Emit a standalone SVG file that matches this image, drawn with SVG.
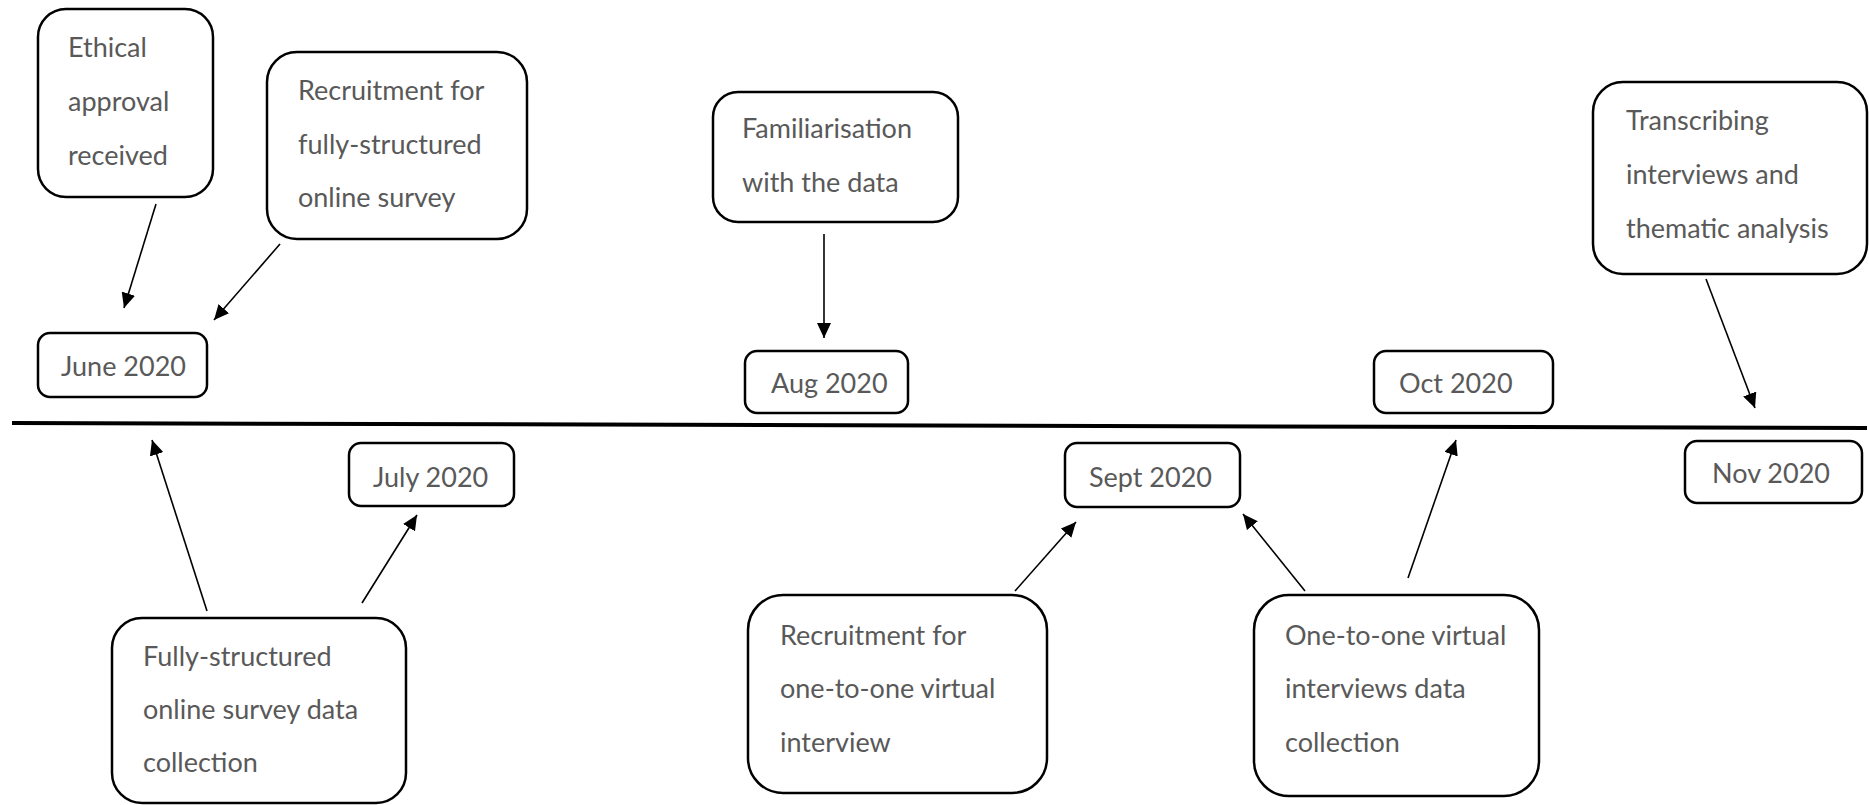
<svg xmlns="http://www.w3.org/2000/svg" width="1869" height="805" viewBox="0 0 1869 805">
<style>
.box{fill:#fff;stroke:#000;stroke-width:2.5}
.t{font-family:Lato,"Liberation Sans",sans-serif;font-size:27px;fill:#595959}
.c{stroke:#000;stroke-width:1.6;fill:none;marker-end:url(#ah)}
</style>
<defs>
<marker id="ah" markerUnits="userSpaceOnUse" markerWidth="16" markerHeight="14" refX="15" refY="7" orient="auto">
<path d="M0,0 L15,7 L0,14 z" fill="#000"/>
</marker>
</defs>
<rect width="1869" height="805" fill="#fff"/>
<line x1="12" y1="423" x2="1867" y2="428" stroke="#000" stroke-width="4"/>
<g id="connectors">
<line class="c" x1="156" y1="204" x2="124" y2="308"/>
<line class="c" x1="280" y1="244" x2="214" y2="320"/>
<line class="c" x1="824" y1="234" x2="824" y2="338"/>
<line class="c" x1="1706" y1="279" x2="1755" y2="408"/>
<line class="c" x1="207" y1="611" x2="152" y2="440"/>
<line class="c" x1="362" y1="603" x2="417" y2="515"/>
<line class="c" x1="1015" y1="591" x2="1076" y2="522"/>
<line class="c" x1="1305" y1="591" x2="1243" y2="514"/>
<line class="c" x1="1408" y1="578" x2="1456" y2="440"/>
</g>
<g id="ethical">
<rect class="box" x="38" y="9" width="175" height="188" rx="28"/>
<text class="t" x="68" y="57">Ethical</text>
<text class="t" x="68" y="111">approval</text>
<text class="t" x="68" y="165">received</text>
</g>
<g id="recruit-survey">
<rect class="box" x="267" y="52" width="260" height="187" rx="30"/>
<text class="t" x="298" y="100">Recruitment for</text>
<text class="t" x="298" y="154">fully-structured</text>
<text class="t" x="298" y="207">online survey</text>
</g>
<g id="june">
<rect class="box" x="38" y="333" width="169" height="64" rx="12"/>
<text class="t" x="61" y="376">June 2020</text>
</g>
<g id="familiarisation">
<rect class="box" x="713" y="92" width="245" height="130" rx="25"/>
<text class="t" x="742" y="138">Familiarisation</text>
<text class="t" x="742" y="192">with the data</text>
</g>
<g id="aug">
<rect class="box" x="745" y="351" width="163" height="62" rx="12"/>
<text class="t" x="771" y="393">Aug 2020</text>
</g>
<g id="transcribing">
<rect class="box" x="1593" y="82" width="274" height="192" rx="30"/>
<text class="t" x="1626" y="130">Transcribing</text>
<text class="t" x="1626" y="184">interviews and</text>
<text class="t" x="1626" y="238">thematic analysis</text>
</g>
<g id="oct">
<rect class="box" x="1374" y="351" width="179" height="62" rx="12"/>
<text class="t" x="1399" y="393">Oct 2020</text>
</g>
<g id="nov">
<rect class="box" x="1685" y="441" width="177" height="62" rx="12"/>
<text class="t" x="1712" y="483">Nov 2020</text>
</g>
<g id="july">
<rect class="box" x="349" y="443" width="165" height="63" rx="12"/>
<text class="t" x="373" y="487">July 2020</text>
</g>
<g id="sept">
<rect class="box" x="1065" y="443" width="175" height="64" rx="12"/>
<text class="t" x="1089" y="487">Sept 2020</text>
</g>
<g id="survey-collection">
<rect class="box" x="112" y="618" width="294" height="185" rx="30"/>
<text class="t" x="143" y="666">Fully-structured</text>
<text class="t" x="143" y="719">online survey data</text>
<text class="t" x="143" y="772">collection</text>
</g>
<g id="recruit-interview">
<rect class="box" x="748" y="595" width="299" height="198" rx="35"/>
<text class="t" x="780" y="645">Recruitment for</text>
<text class="t" x="780" y="698">one-to-one virtual</text>
<text class="t" x="780" y="752">interview</text>
</g>
<g id="interview-collection">
<rect class="box" x="1254" y="595" width="285" height="201" rx="35"/>
<text class="t" x="1285" y="645">One-to-one virtual</text>
<text class="t" x="1285" y="698">interviews data</text>
<text class="t" x="1285" y="752">collection</text>
</g>
</svg>
